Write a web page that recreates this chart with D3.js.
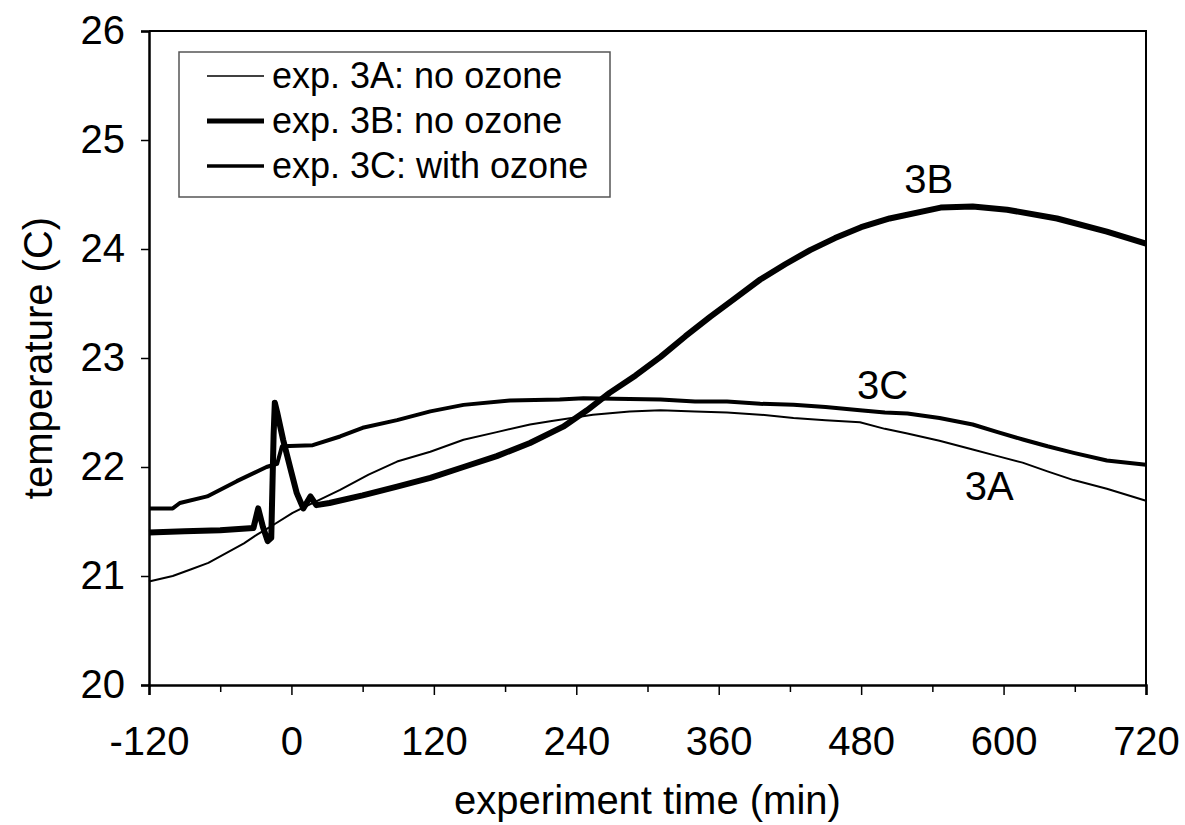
<!DOCTYPE html>
<html>
<head>
<meta charset="utf-8">
<script src="https://cdn.jsdelivr.net/npm/d3@7"></script>
<style>
  body { margin: 0; background: #fff; }
  text { font-family: "Liberation Sans", Arial, sans-serif; fill: #000; }
</style>
</head>
<body>
<svg id="chart" width="1185" height="825"></svg>
<script>
// experiment time (min), temperature (C)
const series3A = [
  [-120,20.95],[-100,21.0],[-85,21.06],[-70,21.12],[-55,21.21],[-40,21.3],[-29,21.38],[-15,21.47],
  [1,21.58],[20,21.68],[41,21.79],[65,21.93],[89,22.05],[117,22.14],[145,22.25],[173,22.32],
  [201,22.39],[218,22.42],[254,22.48],[285,22.51],[311,22.52],[340,22.51],[367,22.50],[395,22.48],
  [423,22.45],[450,22.43],[479,22.41],[500,22.35],[518,22.31],[546,22.24],[574,22.16],[595,22.1],
  [616,22.04],[637,21.96],[659,21.88],[687,21.80],[720,21.69]
];
const series3B = [
  [-120,21.40],[-90,21.41],[-60,21.42],[-32,21.44],[-28,21.62],[-24,21.45],[-20,21.32],[-17,21.35],
  [-15,22.3],[-14,22.59],[-12,22.5],[-7,22.25],[0,21.95],[4.5,21.76],[10,21.62],[16,21.73],[21,21.65],
  [32,21.67],[60,21.74],[89,21.82],[117,21.9],[145,22.0],[173,22.1],[201,22.22],[229,22.37],
  [249,22.52],[268,22.68],[290,22.84],[311,23.01],[332,23.2],[353,23.38],[374,23.55],[395,23.72],
  [416,23.86],[437,23.99],[458,24.1],[480,24.2],[504,24.28],[547,24.38],[574,24.39],[603,24.36],
  [645,24.28],[687,24.16],[720,24.05]
];
const series3C = [
  [-120,21.62],[-100,21.62],[-94,21.67],[-71,21.73],[-46,21.87],[-21,22.0],[-12,22.03],[-8,22.19],
  [18,22.2],[41,22.28],[60,22.36],[89,22.43],[117,22.51],[145,22.57],[184,22.61],[226,22.62],
  [246,22.63],[311,22.62],[340,22.6],[367,22.6],[395,22.58],[423,22.57],[450,22.55],[479,22.52],
  [500,22.5],[519,22.49],[546,22.45],[574,22.39],[595,22.32],[617,22.25],[637,22.19],[659,22.13],
  [687,22.06],[720,22.02]
];
const xTicks = [-120, 0, 120, 240, 360, 480, 600, 720];
const xMinorTicks = [-60, 60, 180, 300, 420, 540, 660];
const yTicks = [20, 21, 22, 23, 24, 25, 26];
const legendLabels = ["exp. 3A: no ozone", "exp. 3B: no ozone", "exp. 3C: with ozone"];
const curveLabels = [["3B", 537, 24.51], ["3C", 498, 22.62], ["3A", 588, 21.70]];

const svg = d3.select("#chart");
const mLeft = 149, mRight = 1146, mTop = 31, mBottom = 685;

const x = d3.scaleLinear().domain([-120, 720]).range([mLeft, mRight]);
const y = d3.scaleLinear().domain([20, 26]).range([mBottom, mTop]);

// frame (top and right)
svg.append("path")
  .attr("d", `M${mLeft},${mTop}H${mRight}V${mBottom}`)
  .attr("fill", "none").attr("stroke", "#000").attr("stroke-width", 2);

// x axis
svg.append("g").attr("transform", `translate(0,${mBottom})`)
  .call(d3.axisBottom(x).tickValues(xTicks).tickSize(10).tickPadding(32).tickFormat(d => String(d)));
svg.append("g").attr("transform", `translate(0,${mBottom})`)
  .call(d3.axisBottom(x).tickValues(xMinorTicks).tickSize(7).tickFormat(""))
  .select(".domain").remove();

// y axis
svg.append("g").attr("transform", `translate(${mLeft},0)`)
  .call(d3.axisLeft(y).tickValues(yTicks).tickSize(8).tickPadding(16).tickFormat(d => String(d)));

svg.selectAll(".domain").attr("stroke-width", 2.5);
svg.selectAll(".tick line").attr("stroke-width", 1.5);
svg.selectAll(".tick text").style("font-size", "40px").style("font-family", '"Liberation Sans", Arial, sans-serif');

// axis titles
svg.append("text").attr("x", (mLeft + mRight) / 2).attr("y", 814)
  .attr("text-anchor", "middle").style("font-size", "40px").text("experiment time (min)");
svg.append("text").attr("transform", `translate(52,${(mTop + mBottom) / 2}) rotate(-90)`)
  .attr("text-anchor", "middle").style("font-size", "40px").text("temperature (C)");

// lines
const line = d3.line().x(d => x(d[0])).y(d => y(d[1]));
const plot = svg.append("g");
plot.append("path").datum(series3A).attr("d", line)
  .attr("fill", "none").attr("stroke", "#000").attr("stroke-width", 2).attr("stroke-linejoin", "round");
plot.append("path").datum(series3C).attr("d", line)
  .attr("fill", "none").attr("stroke", "#000").attr("stroke-width", 4).attr("stroke-linejoin", "round");
plot.append("path").datum(series3B).attr("d", line)
  .attr("fill", "none").attr("stroke", "#000").attr("stroke-width", 6).attr("stroke-linejoin", "round");

// curve labels
curveLabels.forEach(([t, tx, ty]) => {
  svg.append("text").attr("x", x(tx)).attr("y", y(ty))
    .attr("text-anchor", "middle").style("font-size", "40px").text(t);
});

// legend
const lg = svg.append("g");
lg.append("rect").attr("x", 179).attr("y", 52).attr("width", 431).attr("height", 145)
  .attr("fill", "#fff").attr("stroke", "#555").attr("stroke-width", 1.5);
const legendWidths = [1.5, 5, 3.5];
legendLabels.forEach((lab, i) => {
  const ly = 76 + i * 45;
  lg.append("line").attr("x1", 207).attr("x2", 264).attr("y1", ly).attr("y2", ly)
    .attr("stroke", "#000").attr("stroke-width", legendWidths[i]);
  lg.append("text").attr("x", 272).attr("y", ly + 12).style("font-size", "36px").text(lab);
});
</script>
</body>
</html>
